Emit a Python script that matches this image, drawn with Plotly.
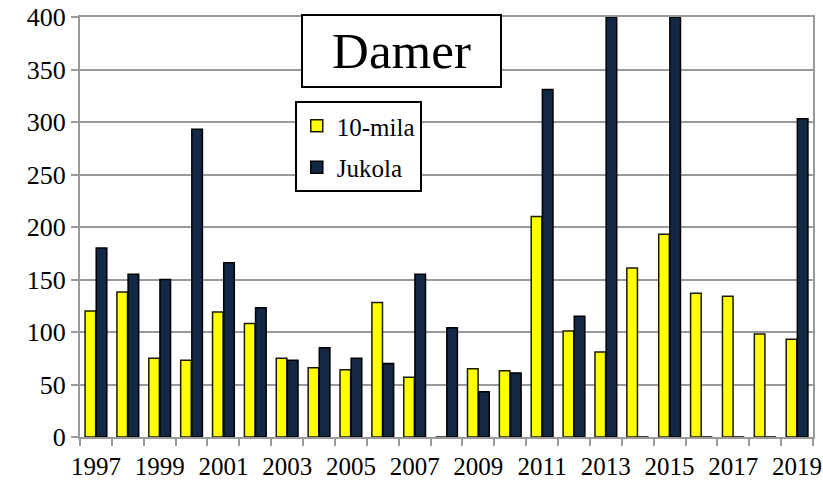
import plotly.graph_objects as go

years = list(range(1997, 2020))
mila10 = [120, 138, 75, 73, 119, 108, 75, 66, 64, 128, 57, 0, 65, 63, 210, 101, 81, 161, 193, 137, 134, 98, 93]
jukola = [180, 155, 150, 293, 166, 123, 73, 85, 75, 70, 155, 104, 43, 61, 331, 115, 400, 0, 400, 0, 0, 0, 303]
tick_years = list(range(1997, 2020, 2))

serif = "Liberation Serif, Times New Roman, serif"

fig = go.Figure()
fig.add_trace(go.Bar(x=years, y=mila10, name="10-mila", legendgroup="a",
                     marker=dict(color="#FFFF00", line=dict(color="#1a1a00", width=1.5))))
fig.add_trace(go.Bar(x=years, y=jukola, name="Jukola", legendgroup="b",
                     marker=dict(color="#132845", line=dict(color="#000000", width=1.5))))

fig.update_layout(
    width=823, height=486,
    margin=dict(l=80, r=10, t=17, b=49),
    plot_bgcolor="white", paper_bgcolor="white",
    barmode="group", bargap=0.3, bargroupgap=0.05,
    font=dict(family=serif, size=25, color="black"),
    showlegend=True,
    legend=dict(x=0.293, y=0.8, xanchor="left", yanchor="top",
                bordercolor="black", borderwidth=2, bgcolor="white",
                font=dict(family=serif, size=25), traceorder="grouped",
                tracegroupgap=6, itemwidth=30),
    annotations=[dict(text="Damer", x=0.439, y=0.920, xref="paper", yref="paper",
                      showarrow=False, font=dict(family=serif, size=51, color="black"),
                      bordercolor="black", borderwidth=2, bgcolor="white",
                      width=195, height=68, xanchor="center", yanchor="middle")],
)
fig.update_xaxes(range=[1996.5, 2019.5], tickvals=tick_years, ticktext=[str(y) for y in tick_years],
                 ticks="", showgrid=False, showline=True, linecolor="#9a9a9a", linewidth=2,
                 tickfont=dict(family=serif, size=25), ticklabelstandoff=6, mirror=True, automargin=False,
                 minor=dict(tick0=1996.5, dtick=1, ticks="outside", ticklen=7, tickcolor="#9a9a9a", tickwidth=2, showgrid=False))
fig.update_yaxes(range=[0, 400], dtick=50, showgrid=True, gridcolor="#9a9a9a", gridwidth=2,
                 showline=True, linecolor="#9a9a9a", linewidth=2, mirror=True, automargin=False,
                 ticks="outside", ticklen=7, tickcolor="#9a9a9a", tickwidth=2,
                 tickfont=dict(family=serif, size=26), zeroline=False)

fig.write_html("out.html", config={"displayModeBar": False},
               post_script="document.body.style.margin='0';")
